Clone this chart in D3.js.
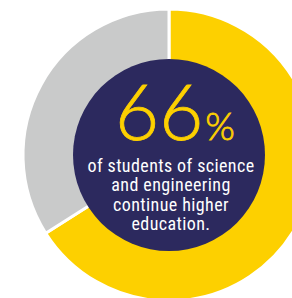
<!DOCTYPE html>
<html>
<head>
<meta charset="utf-8">
<script src="https://cdn.jsdelivr.net/npm/d3@7"></script>
<style>
  html, body { margin: 0; padding: 0; background: #fff; }
  svg { display: block; }
</style>
</head>
<body>
<svg id="chart" width="292" height="298"></svg>
<script>
const categories = ['Continue higher education', 'Other']
const values = [66, 34]
const headline = '66'
const lines = ['of students of science', 'and engineering', 'continue higher', 'education.']

const yellow = '#FDD000'
const grey = '#C9CACA'
const navy = '#2C295E'

const svg = d3.select('#chart')
const cx = 169
const cy = 155
const outerR = 146
const innerR = 96

const data = categories.map((c, i) => ({ category: c, value: values[i] }))

const pie = d3.pie()
	.sort(null)
	.value(d => d.value)

const arc = d3.arc()
	.innerRadius(0)
	.outerRadius(outerR)

const color = d3.scaleOrdinal()
	.domain(categories)
	.range([yellow, grey])

const g = svg.append('g')
	.attr('transform', `translate(${cx}, ${cy})`)

g.selectAll('path.slice')
	.data(pie(data))
	.enter()
	.append('path')
		.attr('class', 'slice')
		.attr('d', arc)
		.attr('fill', d => color(d.data.category))
		.attr('stroke', '#fff')
		.attr('stroke-width', 3)

g.append('circle')
	.attr('r', innerR)
	.attr('fill', navy)

const big = g.append('text')
	.attr('x', 6)
	.attr('y', -15)
	.attr('text-anchor', 'middle')
	.attr('fill', yellow)
	.attr('stroke', yellow)
	.attr('stroke-width', 0.8)
	.style('font-family', 'Lato, "Open Sans", sans-serif')
	.style('font-weight', 300)

big.append('tspan')
	.style('font-size', '76px')
	.text(headline)

big.append('tspan')
	.attr('dx', 2)
	.style('font-size', '38px')
	.text('%')

// body copy, condensed white text
g.selectAll('text.desc')
	.data(lines)
	.enter()
	.append('text')
		.attr('class', 'desc')
		.attr('x', 2)
		.attr('y', (d, i) => 17 + i * 19.3)
		.attr('text-anchor', 'middle')
		.attr('fill', '#fff')
		.style('font-family', '"Liberation Sans Narrow", "Roboto Condensed", sans-serif')
		.style('font-size', '18px')
		.style('letter-spacing', '0.4px')
		.text(d => d)
</script>
</body>
</html>
